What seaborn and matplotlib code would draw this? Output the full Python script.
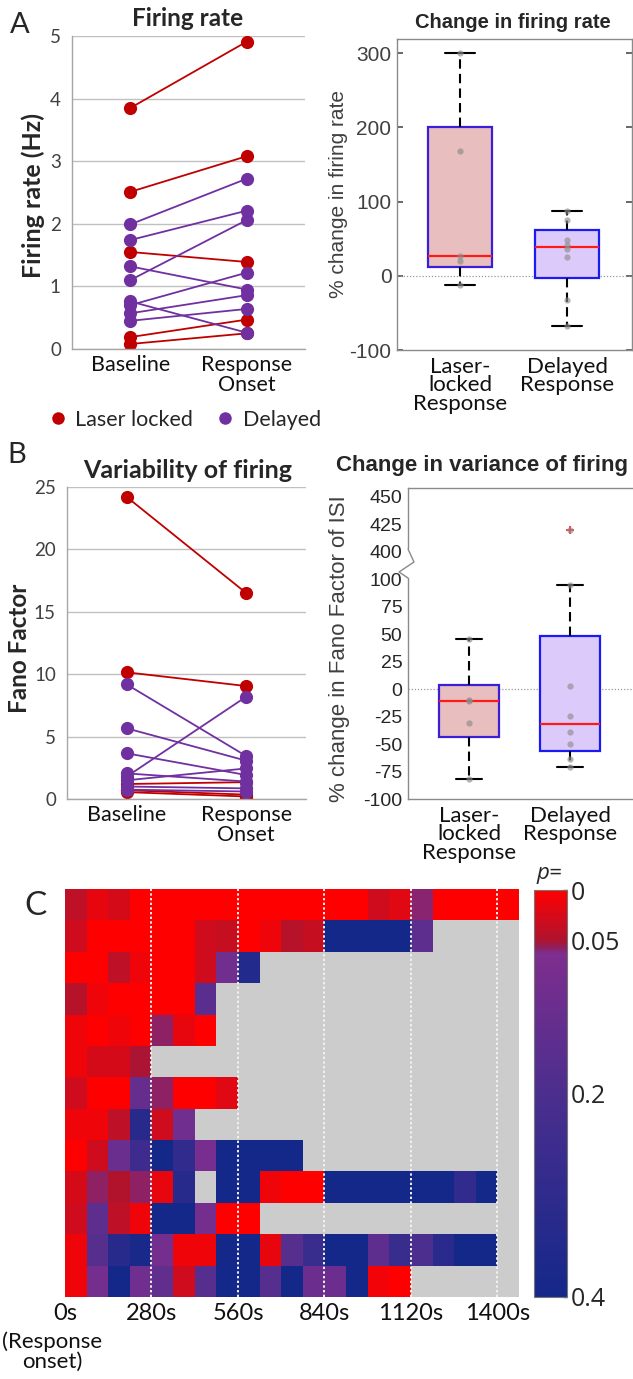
import numpy as np
import pandas as pd
import matplotlib
matplotlib.use("Agg")
import matplotlib.pyplot as plt
import seaborn as sns
from matplotlib.colors import LinearSegmentedColormap
from matplotlib.lines import Line2D
from matplotlib.patches import Rectangle
from matplotlib.ticker import FixedLocator

# ---------------- data ----------------
groups = ["Laser locked", "Delayed"]
conditions = ["Baseline", "Response\nOnset"]
box_labels = ["Laser-\nlocked\nResponse", "Delayed\nResponse"]

# A: firing rate (Hz), one pair per unit
laser_fr_base = [3.85, 2.51, 1.55, 0.19, 0.08]
laser_fr_onset = [4.91, 3.08, 1.39, 0.47, 0.25]
delayed_fr_base = [1.99, 1.74, 1.10, 1.32, 0.70, 0.76, 0.57, 0.45]
delayed_fr_onset = [2.72, 2.21, 2.06, 0.95, 1.22, 0.26, 0.86, 0.64]

# A: % change in firing rate
laser_fr_change = [300, 168, 26, 20, -13]
delayed_fr_change = [87, 75, 48, 41, 36, 25, -32, -67]

# B: Fano factor, one pair per unit
laser_ff_base = [24.2, 10.15, 1.2, 0.7, 0.55]
laser_ff_onset = [16.5, 9.05, 1.35, 0.35, 0.2]
delayed_ff_base = [9.18, 5.66, 3.66, 1.8, 1.5, 2.05, 1.0, 0.75]
delayed_ff_onset = [3.44, 3.07, 1.92, 8.2, 2.45, 1.4, 0.85, 0.6]

# B: % change in Fano factor of ISI
laser_ff_change = [46, -10, -11, -31, -82]
delayed_ff_change = [420, 94.5, 3, -24.5, -39, -49.5, -63.5, -71]

# C: p-values per unit (rows) and 70 s bin (columns); NaN = no data
time_ticks = [0, 4, 8, 12, 16, 20]
time_labels = ["0s", "280s", "560s", "840s", "1120s", "1400s"]
nan = np.nan
p_rows = [
    [0.04, 0.015, 0.025, 0, 0, 0, 0, 0, 0, 0, 0, 0, 0, 0, 0.03, 0.02, 0.058, 0, 0, 0, 0],
    [0.03, 0, 0, 0, 0, 0, 0.03, 0.035, 0, 0.01, 0.045, 0.035, 0.4, 0.4, 0.4, 0.4, 0.15, nan, nan, nan, nan],
    [0, 0, 0.04, 0.01, 0, 0, 0.03, 0.1, 0.35] + [nan] * 12,
    [0.045, 0.01, 0, 0, 0, 0, 0.16] + [nan] * 14,
    [0.01, 0, 0.01, 0, 0.057, 0.015, 0] + [nan] * 14,
    [0.01, 0.025, 0.025, 0.05] + [nan] * 17,
    [0.03, 0, 0, 0.13, 0.057, 0, 0, 0.02] + [nan] * 13,
    [0.01, 0.01, 0.04, 0.33, 0.03, 0.1] + [nan] * 15,
    [0, 0.03, 0.12, 0.25, 0.4, 0.3, 0.08, 0.4, 0.4, 0.4, 0.4] + [nan] * 10,
    [0.025, 0.057, 0.048, 0.057, 0.015, 0.33, nan, 0.4, 0.4, 0.01, 0, 0, 0.4, 0.4, 0.4, 0.4, 0.4, 0.4, 0.3, 0.4, nan],
    [0.03, 0.15, 0.04, 0.01, 0.4, 0.4, 0.09, 0, 0] + [nan] * 12,
    [0.01, 0.17, 0.33, 0.38, 0.09, 0.01, 0.01, 0.4, 0.4, 0.015, 0.17, 0.27, 0.4, 0.4, 0.15, 0.27, 0.2, 0.32, 0.4, 0.4, nan],
    [0.01, 0.09, 0.4, 0.1, 0.14, 0.03, 0.17, 0.4, 0.4, 0.17, 0.4, 0.11, 0.11, 0.4, 0.008, 0, nan, nan, nan, nan, nan],
]
p_values = np.array(p_rows, dtype=float)

# ---------------- styling ----------------
RED = "#C00000"
PURPLE = "#7030A0"
CAL = "Lato"             # humanist sans for the spreadsheet-style panels
ARIAL = "Liberation Sans"

sns.set_theme(style="white")
plt.rcParams["font.family"] = ["Lato", "DejaVu Sans"]

W, H = 633, 1379
fig = plt.figure(figsize=(W / 100, H / 100), dpi=100)


def rect(l, t, r, b):
    return [l / W, 1 - b / H, (r - l) / W, (b - t) / H]


def ftext(x, y, s, **kw):
    kw.setdefault("ha", "center")
    kw.setdefault("va", "center")
    return fig.text(x / W, 1 - y / H, s, **kw)


def pair_frame(base_l, onset_l, base_d, onset_d, name):
    rows = []
    for g, base, onset in ((groups[0], base_l, onset_l), (groups[1], base_d, onset_d)):
        for i, (b, o) in enumerate(zip(base, onset)):
            rows.append(dict(unit=f"{g}{i}", group=g, cond=0, **{name: b}))
            rows.append(dict(unit=f"{g}{i}", group=g, cond=1, **{name: o}))
    return pd.DataFrame(rows)


def spreadsheet_axes(ax, ymax, ystep):
    ax.set_xlim(-0.5, 1.5)
    ax.set_ylim(0, ymax)
    ax.set_yticks(np.arange(0, ymax + 0.001, ystep))
    ax.set_yticklabels([f"{v:g}" for v in np.arange(0, ymax + 0.001, ystep)],
                       fontfamily=CAL, fontsize=13.5, color="#404040")
    ax.yaxis.grid(True, color="#C0C0C0", lw=1.0)
    ax.xaxis.grid(False)
    ax.set_axisbelow(True)
    for s in ("top", "right"):
        ax.spines[s].set_visible(False)
    for s in ("left", "bottom"):
        ax.spines[s].set_color("#A6A6A6")
        ax.spines[s].set_linewidth(1.0)
    ax.set_xticks([0, 1])
    ax.set_xticklabels(conditions, fontfamily=CAL, fontsize=15.5, color="#111111",
                       linespacing=1.0)
    ax.set_xticks([-0.5, 0.5, 1.5], minor=True)
    ax.tick_params(axis="x", which="major", length=0, pad=4)
    ax.tick_params(axis="x", which="minor", length=7, color="#A6A6A6", direction="out", width=1)
    ax.tick_params(axis="y", length=5, color="#C0C0C0", direction="out", pad=3)
    ax.set_xlabel("")
    ax.set_ylabel("")


def matlab_stats(values, mapper=lambda v: v):
    v = np.sort(np.asarray(values, float))
    n = len(v)

    def prc(p):
        pos = p * n + 0.5
        if pos <= 1:
            return v[0]
        if pos >= n:
            return v[-1]
        lo = int(np.floor(pos))
        frac = pos - lo
        return v[lo - 1] + frac * (v[lo] - v[lo - 1])

    q1, med, q3 = prc(0.25), prc(0.5), prc(0.75)
    iqr = q3 - q1
    keep = (v >= q1 - 1.5 * iqr) & (v <= q3 + 1.5 * iqr)
    inside, out = v[keep], v[~keep]
    return dict(med=mapper(med), q1=mapper(q1), q3=mapper(q3),
                whislo=mapper(inside.min()), whishi=mapper(inside.max()),
                fliers=np.array([mapper(x) for x in out]))


def box_panel(ax, laser_vals, delayed_vals, mapper, width, capw):
    stats = [matlab_stats(laser_vals, mapper), matlab_stats(delayed_vals, mapper)]
    res = ax.bxp(stats, positions=[0, 1], widths=width, capwidths=capw,
                 patch_artist=True, showfliers=True,
                 boxprops=dict(lw=1.6),
                 whiskerprops=dict(color="black", lw=1.5, ls=(0, (4.5, 2.5))),
                 capprops=dict(color="black", lw=1.5),
                 medianprops=dict(color="#FF1A1A", lw=1.6),
                 flierprops=dict(marker="+", markeredgecolor="#FF2020", markersize=6,
                                 markeredgewidth=1.2, linestyle="none"))
    res["boxes"][0].set_facecolor("#E8BEBE")
    res["boxes"][0].set_edgecolor("#3A1FD6")
    res["boxes"][1].set_facecolor("#DCCBFA")
    res["boxes"][1].set_edgecolor("#1A1AF5")
    pts = pd.DataFrame(
        dict(group=[box_labels[0]] * len(laser_vals) + [box_labels[1]] * len(delayed_vals),
             value=[mapper(v) for v in list(laser_vals) + list(delayed_vals)]))
    sns.stripplot(data=pts, x="group", y="value", order=box_labels, color="#8C8C8C",
                  alpha=0.65, size=4.5, jitter=False, linewidth=0, ax=ax, zorder=4)
    ax.axhline(0, color="#9A9A9A", ls=(0, (1, 1.5)), lw=0.9, zorder=1)
    ax.set_xlabel("")
    ax.set_ylabel("")
    ax.set_xticks([0, 1])
    ax.set_xticklabels(box_labels, fontfamily=CAL, fontsize=16, color="#111111",
                       linespacing=0.9)
    ax.tick_params(axis="x", length=0, pad=5)


# ---------------- A left: firing rate ----------------
axA1 = fig.add_axes(rect(72, 36, 305, 349))
fr = pair_frame(laser_fr_base, laser_fr_onset, delayed_fr_base, delayed_fr_onset, "rate")
sns.lineplot(data=fr, x="cond", y="rate", hue="group", units="unit", estimator=None,
             palette={groups[0]: RED, groups[1]: PURPLE}, hue_order=groups,
             marker="o", markersize=9.5, markeredgewidth=0, lw=1.3, legend=False,
             sort=False, ax=axA1)
spreadsheet_axes(axA1, 5, 1)
ftext(188, 19, "Firing rate", fontfamily=CAL, fontsize=17.5, fontweight="bold")
ftext(33, 195, "Firing rate (Hz)", fontfamily=CAL, fontsize=18, fontweight="bold", rotation=90)
ftext(20, 25, "A", fontfamily=CAL, fontsize=21)

handles = [Line2D([], [], ls="none", marker="o", color=RED, markersize=9, markeredgewidth=0),
           Line2D([], [], ls="none", marker="o", color=PURPLE, markersize=9, markeredgewidth=0)]
fig.legend(handles, ["Laser locked", "Delayed"], loc="center", bbox_to_anchor=(184 / W, 1 - 420 / H),
           ncol=2, frameon=False, handletextpad=0.3, columnspacing=1.0, handlelength=1.0,
           prop=dict(family=CAL, size=15.5))

# ---------------- A right: % change in firing rate ----------------
axA2 = fig.add_axes(rect(397, 39, 632, 350))
box_panel(axA2, laser_fr_change, delayed_fr_change, lambda v: v, 0.59, 0.28)
axA2.set_xlim(-0.589, 1.607)
axA2.set_ylim(-100, 319)
axA2.set_yticks([-100, 0, 100, 200, 300])
axA2.set_yticklabels(["-100", "0", "100", "200", "300"], fontfamily=ARIAL, fontsize=15, color="#404040")
axA2.tick_params(axis="y", direction="in", length=4, color="#555555", right=True, left=True, pad=4)
for s in axA2.spines.values():
    s.set_visible(True)
    s.set_color("#8A8A8A")
    s.set_linewidth(1.0)
ftext(513, 23, "Change in firing rate", fontfamily=ARIAL, fontsize=14.5, fontweight="bold")
ftext(338, 194, "% change in firing rate", fontfamily=ARIAL, fontsize=15, color="#404040", rotation=90)

# ---------------- B left: Fano factor ----------------
axB1 = fig.add_axes(rect(67, 487, 306, 799))
ff = pair_frame(laser_ff_base, laser_ff_onset, delayed_ff_base, delayed_ff_onset, "fano")
sns.lineplot(data=ff, x="cond", y="fano", hue="group", units="unit", estimator=None,
             palette={groups[0]: RED, groups[1]: PURPLE}, hue_order=groups,
             marker="o", markersize=9.5, markeredgewidth=0, lw=1.3, legend=False,
             sort=False, ax=axB1)
spreadsheet_axes(axB1, 25, 5)
ftext(188, 470, "Variability of firing", fontfamily=CAL, fontsize=18, fontweight="bold")
ftext(20, 648, "Fano Factor", fontfamily=CAL, fontsize=17.5, fontweight="bold", rotation=90)
ftext(17, 455, "B", fontfamily=CAL, fontsize=21)

# ---------------- B right: % change in Fano factor (broken axis) ----------------
def squeeze_break(v):
    # values above the break (400+) are drawn just above 100
    return v - 275 if v > 100 else v


axB2 = fig.add_axes(rect(408, 488, 650, 799))
box_panel(axB2, laser_ff_change, delayed_ff_change, squeeze_break, 0.60, 0.25)
axB2.set_xlim(-0.604, 1.792)
axB2.set_ylim(-100, 183)
b_ticks = [-100, -75, -50, -25, 0, 25, 50, 75, 100, 400, 425, 450]
axB2.set_yticks([squeeze_break(t) for t in b_ticks])
axB2.set_yticklabels([str(t) for t in b_ticks], fontfamily=ARIAL, fontsize=14, color="#262626")
axB2.tick_params(axis="y", direction="in", length=4, color="#555555", pad=4)
axB2.spines["right"].set_visible(False)
for s in ("left", "top", "bottom"):
    axB2.spines[s].set_visible(True)
    axB2.spines[s].set_color("#8A8A8A")
    axB2.spines[s].set_linewidth(1.0)
ftext(482, 465, "Change in variance of firing", fontfamily=ARIAL, fontsize=16, fontweight="bold")
ftext(340, 649, "% change in Fano Factor of ISI", fontfamily=ARIAL, fontsize=16, color="#404040", rotation=90)

# axis-break zigzag on the left spine
fig.add_artist(Rectangle((404 / W, 1 - 578 / H), 8 / W, 29 / H, transform=fig.transFigure,
                         facecolor="white", edgecolor="none", zorder=5))
zx = np.array([408, 414, 399, 408]) / W
zy = 1 - np.array([549, 562, 572, 578]) / H
fig.add_artist(Line2D(zx, zy, transform=fig.transFigure, color="#8A8A8A", lw=1.0, zorder=6))

# ---------------- C: p-value heatmap ----------------
cmap = LinearSegmentedColormap.from_list(
    "pmap",
    [(0.0, "#FF0000"), (0.125, "#AC1430"), (0.14, "#8E2060"), (0.155, "#7E2E8E"),
     (0.5, "#4B2E8E"), (1.0, "#14288A")])
axC = fig.add_axes(rect(65, 889, 519, 1297))
cax = fig.add_axes(rect(534, 890, 567, 1297))
axC.set_facecolor("#CCCCCC")
sns.heatmap(pd.DataFrame(p_values), ax=axC, cmap=cmap, vmin=0, vmax=0.4, cbar_ax=cax,
            xticklabels=False, yticklabels=False, linewidths=0)
for t in time_ticks[1:]:
    axC.axvline(t, color="#F2F2F2", ls=(0, (1.2, 1.2)), lw=1.4)
axC.set_xticks(time_ticks)
axC.set_xticklabels(time_labels, fontfamily=CAL, fontsize=17, color="#111111", rotation=0)
axC.set_yticks([])
axC.tick_params(axis="x", length=0, pad=4)
ftext(52, 1352, "(Response\nonset)", fontfamily=CAL, fontsize=16, color="#111111", linespacing=1.0)
ftext(36, 906, "C", fontfamily=CAL, fontsize=24)

cbar = axC.collections[0].colorbar
cbar.set_ticks([0, 0.05, 0.2, 0.4])
cbar.set_ticklabels(["0", "0.05", "0.2", "0.4"])
cbar.ax.yaxis.set_minor_locator(FixedLocator([0.1, 0.15, 0.25, 0.3, 0.35]))
cbar.ax.invert_yaxis()
cbar.ax.tick_params(which="both", direction="in", color="#333333", width=1)
cbar.ax.tick_params(which="major", length=3, labelsize=18, pad=3)
cbar.ax.tick_params(which="minor", length=3)
for lab in cbar.ax.get_yticklabels():
    lab.set_fontfamily("Open Sans")
cbar.outline.set_edgecolor("#777777")
cbar.outline.set_linewidth(0.8)
ftext(549, 874, "p=", fontfamily="Open Sans", fontsize=16, fontstyle="italic")

fig.savefig("out.png", dpi=100)
